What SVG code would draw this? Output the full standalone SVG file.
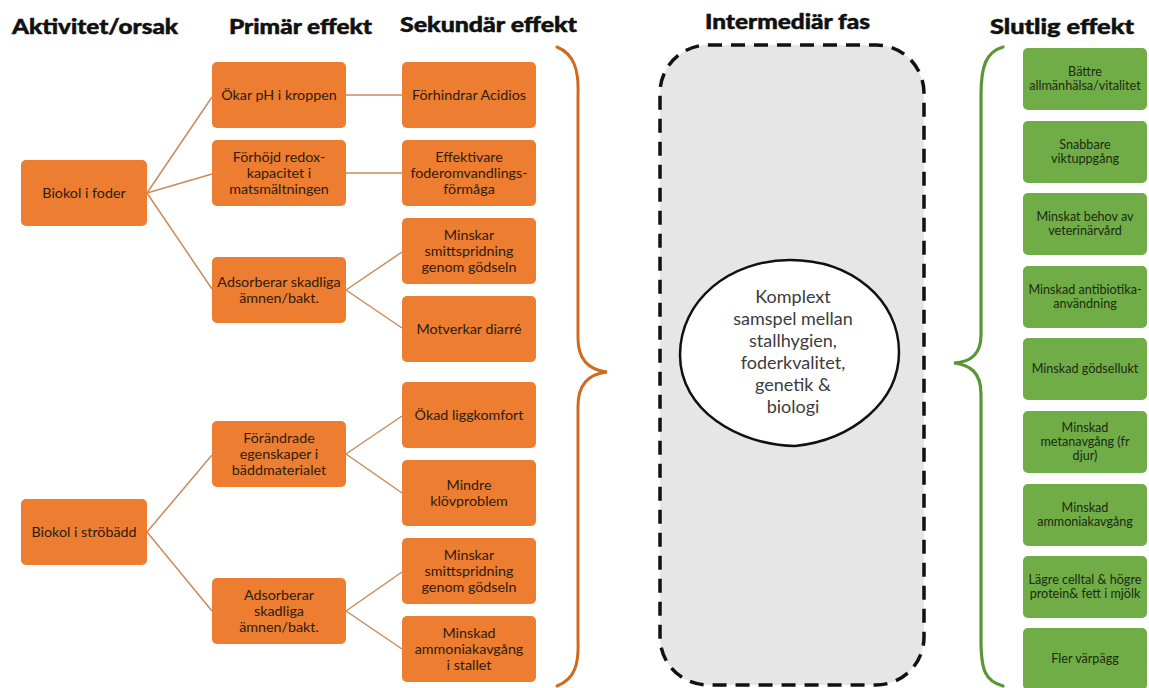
<svg xmlns="http://www.w3.org/2000/svg" width="1149" height="688" viewBox="0 0 1149 688">
  <defs>
    <style>
      .hdr { font-family: Lato, "Liberation Sans", sans-serif; font-weight: 900; font-size: 21px; fill: #111; stroke: #111; stroke-width: 0.5; }
      .ob { fill: #ED7D31; }
      .gb { fill: #70AD47; }
      .ot { font-family: Lato, "Open Sans", sans-serif; font-size: 14.3px; fill: #2e1c10; text-anchor: middle; }
      .gt { font-family: Lato, "Open Sans", sans-serif; font-size: 12.6px; fill: #1c2a12; text-anchor: middle; }
      .ct { font-family: Lato, "Open Sans", sans-serif; font-size: 18px; fill: #3c3c3c; text-anchor: middle; }
      .link { stroke: #c98a5c; stroke-width: 1.5; fill: none; }
    </style>
  </defs>
  <rect width="1149" height="688" fill="#fff"/>

  <!-- Column headings -->
  <g id="headings">
    <text class="hdr" x="12" y="34" textLength="166" lengthAdjust="spacingAndGlyphs">Aktivitet/orsak</text>
    <text class="hdr" x="229" y="34" textLength="143" lengthAdjust="spacingAndGlyphs">Primär effekt</text>
    <text class="hdr" x="400" y="32" textLength="177" lengthAdjust="spacingAndGlyphs">Sekundär effekt</text>
    <text class="hdr" x="705" y="29" textLength="165" lengthAdjust="spacingAndGlyphs">Intermediär fas</text>
    <text class="hdr" x="990" y="34" textLength="144" lengthAdjust="spacingAndGlyphs">Slutlig effekt</text>
  </g>

  <!-- Connectors -->
  <g id="connectors">
    <line class="link" x1="147" y1="193" x2="212" y2="97"/>
    <line class="link" x1="147" y1="193" x2="212" y2="174"/>
    <line class="link" x1="147" y1="193" x2="212" y2="289"/>
    <line class="link" x1="346" y1="95" x2="402" y2="95"/>
    <line class="link" x1="346" y1="173" x2="402" y2="173"/>
    <line class="link" x1="346" y1="290" x2="402" y2="252"/>
    <line class="link" x1="346" y1="290" x2="402" y2="328"/>
    <line class="link" x1="147" y1="532" x2="212" y2="455"/>
    <line class="link" x1="147" y1="532" x2="212" y2="611"/>
    <line class="link" x1="346" y1="454" x2="402" y2="416"/>
    <line class="link" x1="346" y1="454" x2="402" y2="493"/>
    <line class="link" x1="346" y1="611" x2="402" y2="572"/>
    <line class="link" x1="346" y1="611" x2="402" y2="649"/>
  </g>

  <!-- Causes -->
  <g id="biokol-foder">
    <rect class="ob" x="21" y="160" width="126" height="66" rx="5"/>
    <text class="ot" x="84" y="198">Biokol i foder</text>
  </g>
  <g id="biokol-strobadd">
    <rect class="ob" x="21" y="499" width="126" height="66" rx="5"/>
    <text class="ot" x="84" y="537">Biokol i ströbädd</text>
  </g>

  <!-- Primary effects -->
  <g id="okar-ph">
    <rect class="ob" x="212" y="62" width="134" height="66" rx="5"/>
    <text class="ot" x="279" y="100">Ökar pH i kroppen</text>
  </g>
  <g id="forhojd-redox">
    <rect class="ob" x="212" y="140" width="134" height="66" rx="5"/>
    <text class="ot" x="279" y="162"><tspan x="279">Förhöjd redox-</tspan><tspan x="279" dy="16">kapacitet i</tspan><tspan x="279" dy="16">matsmältningen</tspan></text>
  </g>
  <g id="adsorberar-1">
    <rect class="ob" x="212" y="257" width="134" height="66" rx="5"/>
    <text class="ot" x="279" y="287"><tspan x="279">Adsorberar skadliga</tspan><tspan x="279" dy="16">ämnen/bakt.</tspan></text>
  </g>
  <g id="forandrade">
    <rect class="ob" x="212" y="421" width="134" height="66" rx="5"/>
    <text class="ot" x="279" y="443"><tspan x="279">Förändrade</tspan><tspan x="279" dy="16">egenskaper i</tspan><tspan x="279" dy="16">bäddmaterialet</tspan></text>
  </g>
  <g id="adsorberar-2">
    <rect class="ob" x="212" y="578" width="134" height="66" rx="5"/>
    <text class="ot" x="279" y="600"><tspan x="279">Adsorberar</tspan><tspan x="279" dy="16">skadliga</tspan><tspan x="279" dy="16">ämnen/bakt.</tspan></text>
  </g>

  <!-- Secondary effects -->
  <g id="acidios">
    <rect class="ob" x="402" y="62" width="134" height="66" rx="5"/>
    <text class="ot" x="469" y="100">Förhindrar Acidios</text>
  </g>
  <g id="effektivare">
    <rect class="ob" x="402" y="140" width="134" height="66" rx="5"/>
    <text class="ot" x="469" y="162"><tspan x="469">Effektivare</tspan><tspan x="469" dy="16">foderomvandlings-</tspan><tspan x="469" dy="16">förmåga</tspan></text>
  </g>
  <g id="smitt-1">
    <rect class="ob" x="402" y="218" width="134" height="66" rx="5"/>
    <text class="ot" x="469" y="240"><tspan x="469">Minskar</tspan><tspan x="469" dy="16">smittspridning</tspan><tspan x="469" dy="16">genom gödseln</tspan></text>
  </g>
  <g id="diarre">
    <rect class="ob" x="402" y="296" width="134" height="66" rx="5"/>
    <text class="ot" x="469" y="334">Motverkar diarré</text>
  </g>
  <g id="liggkomfort">
    <rect class="ob" x="402" y="382" width="134" height="66" rx="5"/>
    <text class="ot" x="469" y="420">Ökad liggkomfort</text>
  </g>
  <g id="klovproblem">
    <rect class="ob" x="402" y="460" width="134" height="66" rx="5"/>
    <text class="ot" x="469" y="490"><tspan x="469">Mindre</tspan><tspan x="469" dy="16">klövproblem</tspan></text>
  </g>
  <g id="smitt-2">
    <rect class="ob" x="402" y="538" width="134" height="66" rx="5"/>
    <text class="ot" x="469" y="560"><tspan x="469">Minskar</tspan><tspan x="469" dy="16">smittspridning</tspan><tspan x="469" dy="16">genom gödseln</tspan></text>
  </g>
  <g id="ammoniak-stall">
    <rect class="ob" x="402" y="616" width="134" height="66" rx="5"/>
    <text class="ot" x="469" y="638"><tspan x="469">Minskad</tspan><tspan x="469" dy="16">ammoniakavgång</tspan><tspan x="469" dy="16">i stallet</tspan></text>
  </g>

  <!-- Orange brace gathering the secondary effects -->
  <path id="brace-orange" d="M557 47 C574 54 579 70 578 95 L578 338 C578 360 589 370 607 372 C589 374 578 384 578 406 L578 640 C579 664 575 679 557 686" fill="none" stroke="#cf6a1f" stroke-width="3" stroke-linecap="round"/>

  <!-- Intermediate phase -->
  <g id="intermediar">
    <rect x="660" y="45" width="264" height="640" rx="48" fill="#e6e6e6" stroke="#111" stroke-width="3.5" stroke-dasharray="14 9"/>
    <path d="M795 446 C738 445 680 410 680 355 C680 300 730 260 790 260 C852 260 899 300 899 352 C899 402 852 440 795 446 Z" fill="#fff" stroke="#111" stroke-width="2.5"/>
    <text class="ct" x="793" y="303"><tspan x="793">Komplext</tspan><tspan x="793" dy="22">samspel mellan</tspan><tspan x="793" dy="22">stallhygien,</tspan><tspan x="793" dy="22">foderkvalitet,</tspan><tspan x="793" dy="22">genetik &amp;</tspan><tspan x="793" dy="22">biologi</tspan></text>
  </g>

  <!-- Green brace gathering the final effects -->
  <path id="brace-green" d="M1003 47 C986 52 981 66 981 95 L981 335 C981 355 970 362 954 363 C970 365 981 372 981 394 L981 640 C981 670 985 681 1003 686" fill="none" stroke="#5a9638" stroke-width="3.2" stroke-linecap="round"/>

  <!-- Final effects -->
  <g id="allmanhalsa">
    <rect class="gb" x="1023" y="48" width="124" height="62" rx="5"/>
    <text class="gt" x="1085" y="76"><tspan x="1085">Bättre</tspan><tspan x="1085" dy="14">allmänhälsa/vitalitet</tspan></text>
  </g>
  <g id="viktuppgang">
    <rect class="gb" x="1023" y="121" width="124" height="62" rx="5"/>
    <text class="gt" x="1085" y="149"><tspan x="1085">Snabbare</tspan><tspan x="1085" dy="14">viktuppgång</tspan></text>
  </g>
  <g id="veterinarvard">
    <rect class="gb" x="1023" y="193" width="124" height="62" rx="5"/>
    <text class="gt" x="1085" y="221"><tspan x="1085">Minskat behov av</tspan><tspan x="1085" dy="14">veterinärvård</tspan></text>
  </g>
  <g id="antibiotika">
    <rect class="gb" x="1023" y="266" width="124" height="62" rx="5"/>
    <text class="gt" x="1085" y="294"><tspan x="1085">Minskad antibiotika-</tspan><tspan x="1085" dy="14">användning</tspan></text>
  </g>
  <g id="godsellukt">
    <rect class="gb" x="1023" y="338" width="124" height="62" rx="5"/>
    <text class="gt" x="1085" y="373">Minskad gödsellukt</text>
  </g>
  <g id="metanavgang">
    <rect class="gb" x="1023" y="411" width="124" height="62" rx="5"/>
    <text class="gt" x="1085" y="432"><tspan x="1085">Minskad</tspan><tspan x="1085" dy="14">metanavgång (fr</tspan><tspan x="1085" dy="14">djur)</tspan></text>
  </g>
  <g id="ammoniakavgang">
    <rect class="gb" x="1023" y="484" width="124" height="62" rx="5"/>
    <text class="gt" x="1085" y="512"><tspan x="1085">Minskad</tspan><tspan x="1085" dy="14">ammoniakavgång</tspan></text>
  </g>
  <g id="mjolk">
    <rect class="gb" x="1023" y="556" width="124" height="62" rx="5"/>
    <text class="gt" x="1085" y="584"><tspan x="1085">Lägre celltal &amp; högre</tspan><tspan x="1085" dy="14">protein&amp; fett i mjölk</tspan></text>
  </g>
  <g id="varpagg">
    <rect class="gb" x="1023" y="628" width="124" height="62" rx="5"/>
    <text class="gt" x="1085" y="663">Fler värpägg</text>
  </g>
</svg>
